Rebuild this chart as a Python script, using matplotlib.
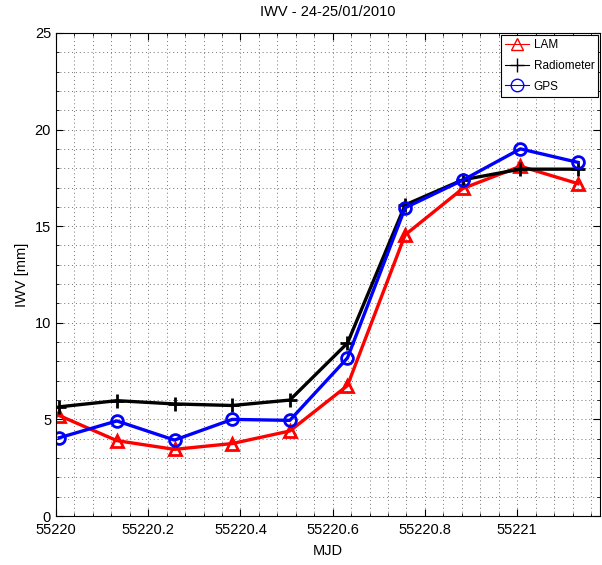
import matplotlib.pyplot as plt
from matplotlib.lines import Line2D
from matplotlib.ticker import MultipleLocator, FormatStrFormatter

plt.rcParams['font.family'] = ['Liberation Sans', 'DejaVu Sans']

# MJD sample times
mjd = [55220.007, 55220.132, 55220.257, 55220.382, 55220.507,
       55220.632, 55220.757, 55220.882, 55221.007, 55221.132]

lam = [5.2, 3.9, 3.45, 3.75, 4.4, 6.75, 14.55, 16.95, 18.1, 17.2]
radiometer = [5.65, 5.97, 5.8, 5.72, 6.0, 8.95, 16.1, 17.4, 17.95, 17.95]
gps = [4.05, 4.92, 3.93, 5.0, 4.95, 8.18, 15.95, 17.38, 19.0, 18.3]

fig = plt.figure(figsize=(6.02, 5.65), dpi=100)
ax = fig.add_axes([0.093, 0.0867, 0.904, 0.855])

ax.plot(mjd, lam, color='red', lw=2.4, marker='^', markersize=8.5,
        markerfacecolor='none', markeredgewidth=2)
ax.plot(mjd, radiometer, color='black', lw=2.4, marker='+', markersize=10,
        markeredgewidth=2)
ax.plot(mjd, gps, color='blue', lw=2.4, marker='o', markersize=8.5,
        markerfacecolor='none', markeredgewidth=2)

ax.set_xlim(55220, 55221.18)
ax.set_ylim(0, 25)
ax.xaxis.set_major_locator(MultipleLocator(0.2))
ax.xaxis.set_minor_locator(MultipleLocator(0.04))
ax.yaxis.set_major_locator(MultipleLocator(5))
ax.yaxis.set_minor_locator(MultipleLocator(1))
ax.xaxis.set_major_formatter(FormatStrFormatter('%g'))

ax.grid(True, which='both', linestyle=(0, (1, 3)), color='0.45', linewidth=0.7)
ax.tick_params(which='both', direction='in', top=True, right=True, labelsize=10.5)
ax.tick_params(axis='x', pad=5)
ax.tick_params(which='major', length=5)
ax.tick_params(which='minor', length=2.5)
for s in ax.spines.values():
    s.set_linewidth(0.8)

ax.set_xlabel('MJD', fontsize=10.5, labelpad=5)
ax.set_ylabel('IWV [mm]', fontsize=10.5)
ax.set_title('IWV - 24-25/01/2010', fontsize=10.5, pad=12)

handles = [
    Line2D([], [], color='red', lw=0.8, marker='^', markersize=9, markerfacecolor='none'),
    Line2D([], [], color='black', lw=0.8, marker='+', markersize=10),
    Line2D([], [], color='blue', lw=0.8, marker='o', markersize=9, markerfacecolor='none'),
]
leg = ax.legend(handles, ['LAM', 'Radiometer', 'GPS'], loc='upper right',
                fontsize=8.5, fancybox=False, framealpha=1, edgecolor='black',
                borderaxespad=0.15, handlelength=2.0, labelspacing=0.75,
                handletextpad=0.4, borderpad=0.35)
leg.get_frame().set_linewidth(0.8)

fig.savefig('out.png', dpi=100)
